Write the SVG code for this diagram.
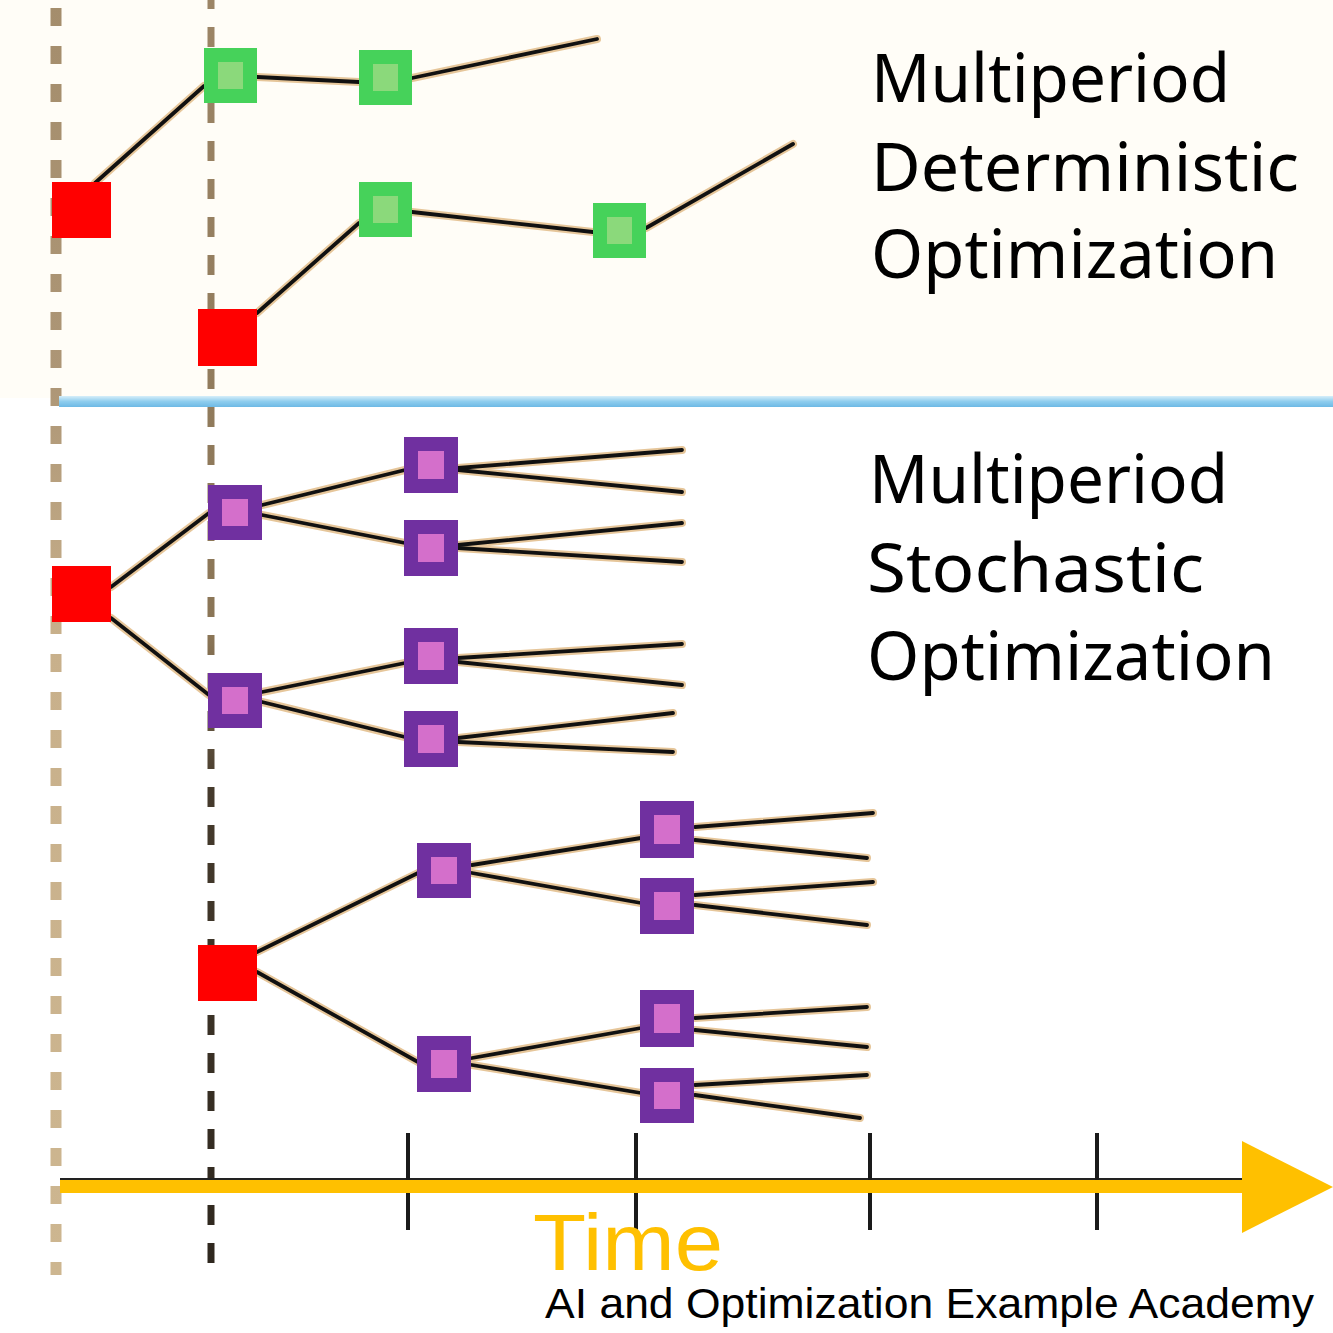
<svg xmlns="http://www.w3.org/2000/svg" xmlns:xlink="http://www.w3.org/1999/xlink" width="1333" height="1333" viewBox="0 0 1333 1333">
<style>
.red{fill:#ff0000}
.gout{fill:#46d25a}
.gin{fill:#8bd97b}
.pout{fill:#7030a0}
.pin{fill:#d46fcb}
.halo{fill:none;stroke:#e6c69a;stroke-width:8;stroke-linecap:round}
.ink{fill:none;stroke:#111;stroke-width:3.8;stroke-linecap:round}
.lbl{font-family:"Noto Sans","Liberation Sans",sans-serif;font-size:68px;fill:#000}
.tick{stroke:#1a1a1a;stroke-width:4}
</style>
<defs>
<linearGradient id="blue" x1="0" y1="0" x2="0" y2="1">
<stop offset="0" stop-color="#d6eef9"/>
<stop offset="0.5" stop-color="#8ecdee"/>
<stop offset="1" stop-color="#6db9e5"/>
</linearGradient>
<linearGradient id="dash2" gradientUnits="userSpaceOnUse" x1="0" y1="0" x2="0" y2="1275">
<stop offset="0" stop-color="#9c8566"/>
<stop offset="0.5" stop-color="#8a7556"/>
<stop offset="0.62" stop-color="#453a2c"/>
<stop offset="1" stop-color="#2e271e"/>
</linearGradient>
<linearGradient id="dash1" gradientUnits="userSpaceOnUse" x1="0" y1="0" x2="0" y2="1275">
<stop offset="0" stop-color="#a48d6c"/>
<stop offset="0.3" stop-color="#ad9676"/>
<stop offset="0.5" stop-color="#c8b08b"/>
<stop offset="1" stop-color="#cdb690"/>
</linearGradient>
<g id="links">
<path d="M95,183 L204,86"/>
<path d="M257,77 L359,82"/>
<path d="M412,78 L597,39"/>
<path d="M257,313 L359,223"/>
<path d="M412,212 L593,232"/>
<path d="M646,228 L793,144"/>
<path d="M111,587 L209,513"/>
<path d="M111,618 L209,695"/>
<path d="M262,505 L405,470"/>
<path d="M262,515 L405,543"/>
<path d="M262,692 L405,663"/>
<path d="M262,702 L405,737"/>
<path d="M458,468 L682,450"/>
<path d="M458,470 L682,492"/>
<path d="M458,545 L682,523"/>
<path d="M458,548 L682,562"/>
<path d="M458,658 L682,644"/>
<path d="M458,662 L682,685"/>
<path d="M458,738 L673,713"/>
<path d="M458,742 L673,752"/>
<path d="M257,952 L418,873"/>
<path d="M257,972 L418,1062"/>
<path d="M472,865 L641,838"/>
<path d="M472,873 L641,903"/>
<path d="M472,1058 L641,1028"/>
<path d="M472,1065 L641,1093"/>
<path d="M695,827 L873,813"/>
<path d="M695,840 L867,858"/>
<path d="M695,895 L873,882"/>
<path d="M695,905 L867,925"/>
<path d="M695,1018 L867,1007"/>
<path d="M695,1030 L867,1047"/>
<path d="M695,1085 L867,1075"/>
<path d="M695,1095 L860,1118"/>
</g>
</defs>
<rect x="0" y="0" width="1333" height="1333" fill="#ffffff"/>
<rect x="0" y="0" width="1333" height="398" fill="#fffdf7"/>
<g id="guides">
<line x1="56" y1="0" x2="56" y2="1275" stroke="url(#dash1)" stroke-width="11" stroke-dasharray="18 20" stroke-dashoffset="30"/>
<line x1="211" y1="0" x2="211" y2="1275" stroke="url(#dash2)" stroke-width="7" stroke-dasharray="20 18" stroke-dashoffset="11"/>
<rect x="59" y="396" width="1274" height="11" fill="url(#blue)"/>
</g>
<g id="axis">
<line x1="60" y1="1179" x2="1300" y2="1179" stroke="#222" stroke-width="2"/>
<line class="tick" x1="408" y1="1133" x2="408" y2="1230"/>
<line class="tick" x1="636" y1="1133" x2="636" y2="1230"/>
<line class="tick" x1="870" y1="1133" x2="870" y2="1230"/>
<line class="tick" x1="1097" y1="1133" x2="1097" y2="1230"/>
<rect x="60" y="1180" width="1190" height="13" fill="#ffc000"/>
<polygon points="1242,1141 1333,1187 1242,1233" fill="#ffc000"/>
<text x="533" y="1270" font-family="Liberation Sans, Arial, sans-serif" font-size="80" fill="#ffc000" textLength="190" lengthAdjust="spacingAndGlyphs">Time</text>
</g>
<g id="connectors">
<use xlink:href="#links" class="halo"/>
<use xlink:href="#links" class="ink"/>
</g>
<g id="det-r1"><rect class="red" x="52" y="182" width="59" height="56"/></g>
<g id="det-a"><rect class="gout" x="204" y="48" width="53" height="55"/><rect class="gin" x="218" y="62" width="25" height="27"/></g>
<g id="det-b"><rect class="gout" x="359" y="50" width="53" height="55"/><rect class="gin" x="373" y="64" width="25" height="27"/></g>
<g id="det-r2"><rect class="red" x="198" y="309" width="59" height="57"/></g>
<g id="det-c"><rect class="gout" x="359" y="182" width="53" height="55"/><rect class="gin" x="373" y="196" width="25" height="27"/></g>
<g id="det-d"><rect class="gout" x="593" y="203" width="53" height="55"/><rect class="gin" x="607" y="217" width="25" height="27"/></g>

<g id="sto-r3"><rect class="red" x="52" y="566" width="59" height="56"/></g>
<g id="sto-p1"><rect class="pout" x="208" y="485" width="54" height="55"/><rect class="pin" x="222" y="499" width="26" height="27"/></g>
<g id="sto-p2"><rect class="pout" x="208" y="673" width="54" height="55"/><rect class="pin" x="222" y="687" width="26" height="27"/></g>
<g id="sto-q1"><rect class="pout" x="404" y="437" width="54" height="56"/><rect class="pin" x="418" y="451" width="26" height="28"/></g>
<g id="sto-q2"><rect class="pout" x="404" y="520" width="54" height="56"/><rect class="pin" x="418" y="534" width="26" height="28"/></g>
<g id="sto-q3"><rect class="pout" x="404" y="628" width="54" height="56"/><rect class="pin" x="418" y="642" width="26" height="28"/></g>
<g id="sto-q4"><rect class="pout" x="404" y="711" width="54" height="56"/><rect class="pin" x="418" y="725" width="26" height="28"/></g>

<g id="sto-r4"><rect class="red" x="198" y="945" width="59" height="56"/></g>
<g id="sto-r1"><rect class="pout" x="417" y="843" width="54" height="55"/><rect class="pin" x="431" y="857" width="26" height="27"/></g>
<g id="sto-r2"><rect class="pout" x="417" y="1036" width="54" height="56"/><rect class="pin" x="431" y="1050" width="26" height="28"/></g>
<g id="sto-s1"><rect class="pout" x="640" y="801" width="54" height="57"/><rect class="pin" x="654" y="815" width="26" height="29"/></g>
<g id="sto-s2"><rect class="pout" x="640" y="878" width="54" height="56"/><rect class="pin" x="654" y="892" width="26" height="28"/></g>
<g id="sto-s3"><rect class="pout" x="640" y="990" width="54" height="57"/><rect class="pin" x="654" y="1004" width="26" height="29"/></g>
<g id="sto-s4"><rect class="pout" x="640" y="1068" width="54" height="55"/><rect class="pin" x="654" y="1082" width="26" height="27"/></g>

<g id="label-det">
<text class="lbl" x="871" y="102" textLength="359" lengthAdjust="spacingAndGlyphs">Multiperiod</text>
<text class="lbl" x="871" y="191" textLength="428" lengthAdjust="spacingAndGlyphs">Deterministic</text>
<text class="lbl" x="871" y="278" textLength="407" lengthAdjust="spacingAndGlyphs">Optimization</text>
</g>
<g id="label-sto">
<text class="lbl" x="869" y="503" textLength="359" lengthAdjust="spacingAndGlyphs">Multiperiod</text>
<text class="lbl" x="867" y="592" textLength="337" lengthAdjust="spacingAndGlyphs">Stochastic</text>
<text class="lbl" x="867" y="680" textLength="408" lengthAdjust="spacingAndGlyphs">Optimization</text>
</g>
<g id="credit">
<text x="545" y="1318" font-family="Liberation Sans, Arial, sans-serif" font-size="42" fill="#000" textLength="769" lengthAdjust="spacingAndGlyphs">AI and Optimization Example Academy</text>
</g>
</svg>
